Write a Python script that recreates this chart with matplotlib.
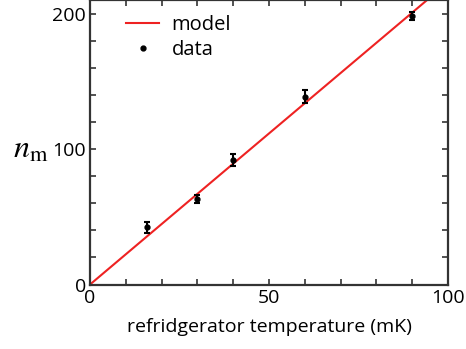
import matplotlib
matplotlib.use("Agg")
import matplotlib.pyplot as plt
import numpy as np
from matplotlib.ticker import MultipleLocator
from matplotlib.lines import Line2D

plt.rcParams['font.family'] = ['Open Sans', 'DejaVu Sans']
plt.rcParams['mathtext.fontset'] = 'stix'

temps = [16, 30, 40, 60, 90]
n_m = [42.1, 63.4, 91.9, 138.7, 198.5]
n_err = [4.0, 3.0, 4.3, 4.7, 3.0]
model_x = [0, 100]
model_slope = 2.23
model_y = [model_slope * v for v in model_x]

fig = plt.figure(figsize=(4.66, 3.49), dpi=100)
ax = fig.add_axes([90/466, 1 - 284.5/349, (448-90)/466, 284.5/349])

ax.plot(model_x, model_y, color='#ee2222', lw=1.5, zorder=2)
ax.errorbar(temps, n_m, yerr=n_err, fmt='o', color='black', ms=3.5,
            elinewidth=1.5, capsize=2.5, capthick=1.5, zorder=3)

ax.set_xlim(0, 100)
ax.set_ylim(0, 210)
ax.xaxis.set_major_locator(MultipleLocator(50))
ax.xaxis.set_minor_locator(MultipleLocator(10))
ax.yaxis.set_major_locator(MultipleLocator(100))
ax.yaxis.set_minor_locator(MultipleLocator(20))
for spine in ax.spines.values():
    spine.set_linewidth(1.6)
    spine.set_color('#333333')
ax.tick_params(which='both', direction='in', top=True, right=True, length=4,
               width=1.2, color='#333333', labelsize=14, pad=3)

ax.set_xlabel('refridgerator temperature (mK)', fontsize=14, labelpad=8)
ax.set_ylabel(r'$n_{\mathrm{m}}$', fontsize=23, rotation=0, ha='center', va='center')
ax.yaxis.set_label_coords(-0.165, 0.475)

handles = [Line2D([], [], color='#ee2222', lw=1.5),
           Line2D([], [], color='black', marker='o', ms=3.5, ls='none')]
leg = ax.legend(handles, ['model', 'data'], loc='upper left', frameon=False,
                fontsize=14.5, bbox_to_anchor=(0.09, 0.962), handlelength=1.65,
                handletextpad=0.6, labelspacing=0.25, borderaxespad=0.0,
                borderpad=0.2)

fig.savefig('out.png', dpi=100)
